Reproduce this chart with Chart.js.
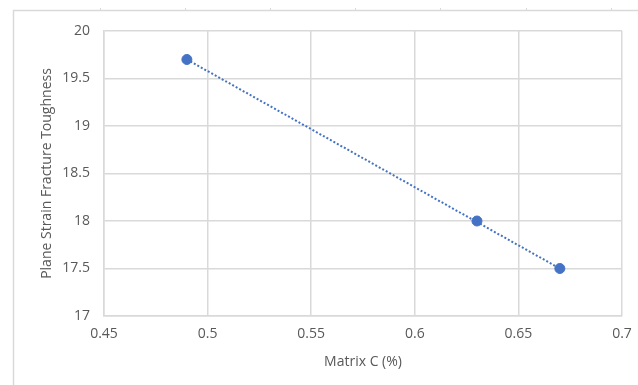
<!DOCTYPE html>
<html>
<head>
<meta charset="utf-8">
<script src="https://cdn.jsdelivr.net/npm/chart.js@4/dist/chart.umd.min.js"></script>
<style>
  html, body { margin: 0; padding: 0; background: #fff; }
  #wrap { position: relative; width: 638px; height: 385px; }
</style>
</head>
<body>
<div id="wrap"><canvas id="chart" width="638" height="385"></canvas></div>
<script>
// Measured points (Matrix C %, toughness)
const matrixC = [0.49, 0.63, 0.67];
const toughness = [19.7, 18.0, 17.5];
// Linear trendline, read at its two ends
const trendX = [0.49, 0.67];
const trendY = [19.7, 17.5];

const xTitle = 'Matrix C (%)';
const yTitle = 'Plane Strain Fracture Toughness';

const blue = '#4472c4';
const gridGray = '#d9d9d9';
const textGray = '#595959';
const font = "'Open Sans', 'Liberation Sans', sans-serif";

// light sheet frame behind the chart (left and top edges, column marks)
const framePlugin = {
  id: 'frame',
  beforeDraw(chart) {
    const c = chart.ctx;
    c.save();
    c.strokeStyle = '#d9d9d9';
    c.lineWidth = 1.5;
    c.beginPath();
    c.moveTo(13.5, 385);
    c.lineTo(13.5, 10.5);
    c.lineTo(638, 10.5);
    c.stroke();
    c.lineWidth = 1;
    [100, 185, 270, 355, 440, 526, 611].forEach(x => {
      c.beginPath();
      c.moveTo(x + 0.5, 8);
      c.lineTo(x + 0.5, 10);
      c.stroke();
    });
    c.restore();
  }
};

new Chart(document.getElementById('chart'), {
  type: 'scatter',
  data: {
    datasets: [{
      label: 'Data',
      data: matrixC.map((x, i) => ({ x, y: toughness[i] })),
      backgroundColor: blue,
      borderColor: blue,
      pointRadius: 5,
      pointHoverRadius: 5,
      order: 1
    }, {
      label: 'Linear trend',
      type: 'line',
      data: trendX.map((x, i) => ({ x, y: trendY[i] })),
      borderColor: blue,
      borderWidth: 2,
      borderDash: [2, 2],
      pointRadius: 0,
      fill: false,
      order: 2
    }]
  },
  options: {
    responsive: false,
    animation: false,
    layout: { padding: { left: 39, right: 16, top: 31, bottom: 15 } },
    plugins: {
      legend: { display: false },
      tooltip: { enabled: false }
    },
    scales: {
      x: {
        type: 'linear',
        min: 0.45,
        max: 0.7,
        ticks: {
          stepSize: 0.05,
          color: textGray,
          padding: 10,
          font: { family: font, size: 14 },
          callback: v => Number(v.toFixed(2)).toString()
        },
        grid: { color: gridGray, lineWidth: 1.5, drawTicks: false },
        border: { color: gridGray, width: 1.5 },
        title: {
          display: true,
          text: xTitle,
          color: textGray,
          padding: 0,
          font: { family: font, size: 14 }
        },
        afterFit(scale) {
          scale.height = 54;
          scale.paddingLeft = 0;
          scale.paddingRight = 0;
        }
      },
      y: {
        min: 17,
        max: 20,
        ticks: {
          stepSize: 0.5,
          color: textGray,
          padding: 14,
          font: { family: font, size: 14 },
          callback: v => Number(v.toFixed(1)).toString()
        },
        grid: { color: gridGray, lineWidth: 1.5, drawTicks: false },
        border: { color: gridGray, width: 1.5 },
        title: {
          display: true,
          text: yTitle,
          color: textGray,
          padding: 0,
          font: { family: font, size: 14 }
        },
        afterFit(scale) { scale.width = 65; }
      }
    }
  },
  plugins: [framePlugin]
});
</script>
</body>
</html>
